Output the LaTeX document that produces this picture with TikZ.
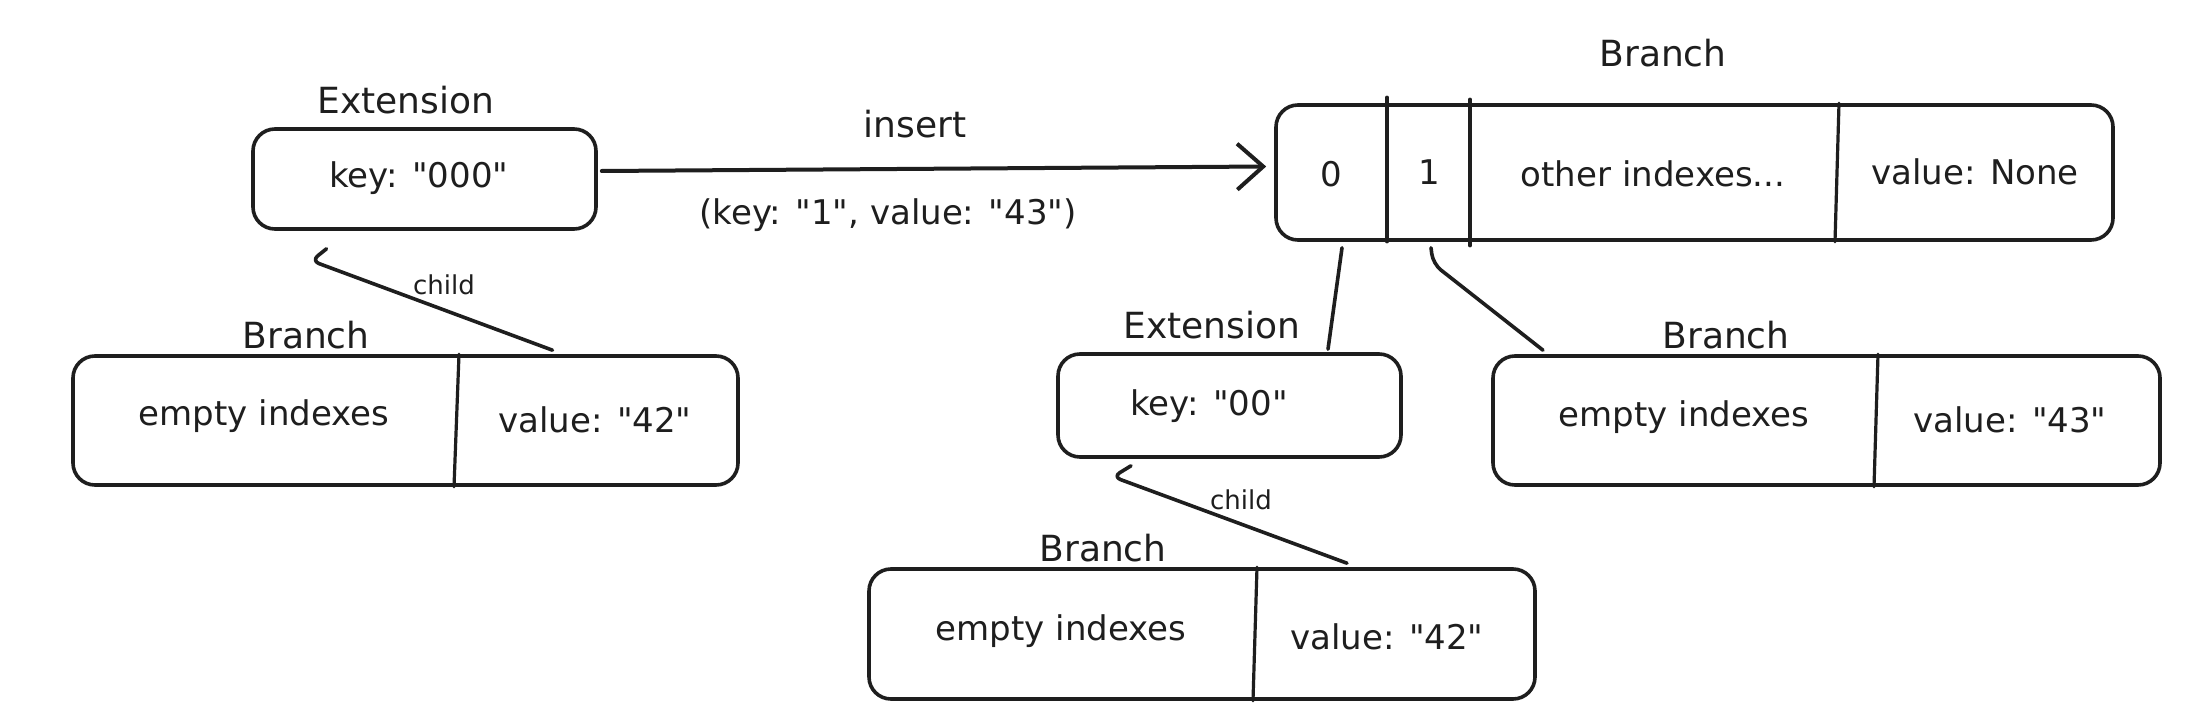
\documentclass[tikz,border=0pt]{standalone}
\usepackage{fontspec}
\setmainfont{DejaVu Sans}
\newfontfamily\dvs{DejaVu Sans}
\usetikzlibrary{arrows.meta,calc}
\definecolor{ink}{HTML}{1E1E1E}
\begin{document}
\begin{tikzpicture}[x=1pt,y=-1pt,
  box/.style={draw=ink,line width=3.6pt,rounded corners=22pt,inner sep=0pt},
  txt/.style={font=\dvs\fontsize{34}{40}\selectfont,text=ink,inner sep=0pt},
  lbl/.style={font=\dvs\fontsize{36}{42}\selectfont,text=ink,inner sep=0pt},
  small/.style={font=\dvs\fontsize{26}{30}\selectfont,text=ink,inner sep=0pt},
  conn/.style={draw=ink,line width=3.6pt,line cap=round,line join=round},
  divider/.style={draw=ink,line width=3.2pt,line cap=round}
]
\fill[white] (0,0) rectangle (2204,722);
\useasboundingbox (0,0) rectangle (2204,722);

% ---------- left: before insert ----------
\node[box,minimum width=343pt,minimum height=100pt] (ext1) at (424.5,179) {};
\node[txt] (ext1t) at (419,178) {key: "000"};
\node[lbl] (ext1l) at (406,100) {Extension};

\node[box,minimum width=665pt,minimum height=129pt] (lb) at (405.5,420.5) {};
\node[lbl] (lbl) at (306,335) {Branch};
\coordinate (lbdt) at (459,0);
\coordinate (lbdb) at (454,0);
\draw[divider] (lb.north -| lbdt) -- (lb.south -| lbdb);
\node[txt] (lbt1) at (264,416) {empty indexes};
\node[txt] (lbt2) at (595,420) {value: "42"};

\draw[conn,rounded corners=8pt] ($(ext1.south)+(-98,18)$) -- ($(ext1.south)+(-113,30)$) -- ($(lb.north)+(147,-4)$);
\node[small] (child1) at (444,285) {child};

% ---------- insert arrow ----------
\node[box,minimum width=837pt,minimum height=135pt] (big) at (1694.5,172.5) {};
\draw[conn,line width=4pt,-{Straight Barb[length=26pt,width=46pt,line width=4pt]}]
  ($(ext1.east)+(4,-8)$) -- ($(big.west)+(-8,-6)$);
\node[lbl] (ins) at (915,124) {insert};
\node[txt] (insarg) at (888,215) {(key: "1", value: "43")};

% ---------- right: after insert ----------
\node[lbl] (bigl) at (1663,53) {Branch};
\coordinate (bd1) at (1387,0);
\coordinate (bd2) at (1470,0);
\coordinate (bd3t) at (1839,0);
\coordinate (bd3b) at (1835,0);
\draw[divider] ($(big.north -| bd1)+(0,-6)$) -- (big.south -| bd1);
\draw[divider] ($(big.north -| bd2)+(0,-4)$) -- ($(big.south -| bd2)+(0,4)$);
\draw[divider] (big.north -| bd3t) -- (big.south -| bd3b);
\node[txt] (c0) at (1331,174) {0};
\node[txt] (c1) at (1429,172) {1};
\node[txt] (c2) at (1653,174) {other indexes...};
\node[txt] (c3) at (1975,172) {value: None};

\node[box,minimum width=343pt,minimum height=103pt] (ext2) at (1229.5,405.5) {};
\node[lbl] (ext2l) at (1212,325) {Extension};
\node[txt] (ext2t) at (1209,406) {key: "00"};

\node[box,minimum width=667pt,minimum height=129pt] (rb) at (1826.5,420.5) {};
\node[lbl] (rbl) at (1726,335) {Branch};
\coordinate (rbdt) at (1878,0);
\coordinate (rbdb) at (1874,0);
\draw[divider] (rb.north -| rbdt) -- (rb.south -| rbdb);
\node[txt] (rbt1) at (1684,417) {empty indexes};
\node[txt] (rbt2) at (2010,420) {value: "43"};

\node[box,minimum width=666pt,minimum height=130pt] (bb) at (1202,634) {};
\node[lbl] (bbl) at (1103,548) {Branch};
\coordinate (bbdt) at (1257,0);
\coordinate (bbdb) at (1253,0);
\draw[divider] (bb.north -| bbdt) -- (bb.south -| bbdb);
\node[txt] (bbt1) at (1061,631) {empty indexes};
\node[txt] (bbt2) at (1387,637) {value: "42"};

% connectors from the new branch
\draw[conn] ($(big.south)+(-352.5,6)$) -- ($(ext2.north)+(98.5,-3)$);
\draw[conn,rounded corners=10pt] ($(big.south)+(-263.5,6)$) -- ($(big.south)+(-261.5,22)$) -- ($(rb.north)+(-283.5,-4)$);

\draw[conn,rounded corners=8pt] ($(ext2.south)+(-98.5,7)$) -- ($(ext2.south)+(-116.5,18)$) -- ($(bb.north)+(145,-4)$);
\node[small] (child2) at (1241,500) {child};
\end{tikzpicture}
\end{document}
